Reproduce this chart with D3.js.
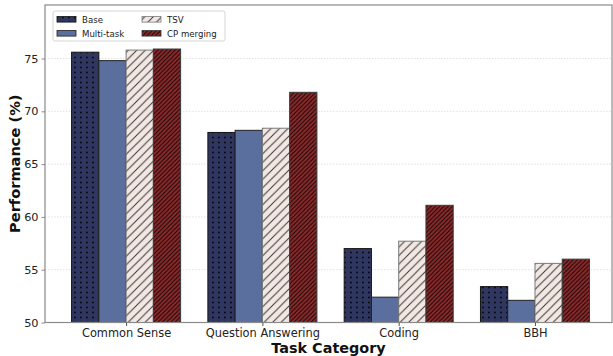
<!DOCTYPE html>
<html>
<head>
<meta charset="utf-8">
<script src="https://cdn.jsdelivr.net/npm/d3@7"></script>
<style>
  html, body { margin: 0; padding: 0; background: #fff; }
  svg { display: block; font-family: "DejaVu Sans", sans-serif; }
</style>
</head>
<body>
<svg id="chart" width="613" height="356"></svg>
<script>
// Task categories along the x axis
const categories = ["Common Sense", "Question Answering", "Coding", "BBH"];

// Method names (legend order) and their scores per category
const methods = ["Base", "Multi-task", "TSV", "CP merging"];
const baseScores      = [75.6, 68.0, 57.0, 53.4];
const multiTaskScores = [74.8, 68.2, 52.4, 52.1];
const tsvScores       = [75.8, 68.4, 57.7, 55.6];
const cpMergingScores = [75.9, 71.8, 61.1, 56.0];

// Y axis ticks
const yTicks = [50, 55, 60, 65, 70, 75];

const seriesValues = [baseScores, multiTaskScores, tsvScores, cpMergingScores];

const svg = d3.select("#chart");
const plot = { left: 45, right: 612, top: 5, bottom: 322.5 };

const x = d3.scaleLinear().domain([-0.595, 3.565]).range([plot.left, plot.right]);
const y = d3.scaleLinear().domain([50, 80.07]).range([plot.bottom, plot.top]);

const barWidth = 0.2;
const offsets = [-0.3, -0.1, 0.1, 0.3];

// Fill patterns for each method
const defs = svg.append("defs");

// Base: navy with dot hatch
const pDots = defs.append("pattern").attr("id", "p-base")
  .attr("patternUnits", "userSpaceOnUse").attr("width", 6).attr("height", 5);
pDots.append("rect").attr("width", 6).attr("height", 5).attr("fill", "#2f3660");
pDots.append("rect").attr("x", 2).attr("y", 1.7).attr("width", 1.8).attr("height", 1.6).attr("fill", "#07080f");

// Multi-task: plain steel blue
const pMulti = defs.append("pattern").attr("id", "p-multi")
  .attr("patternUnits", "userSpaceOnUse").attr("width", 6).attr("height", 6);
pMulti.append("rect").attr("width", 6).attr("height", 6).attr("fill", "#5b6f9f");

// TSV: light blush with sparse diagonal hatch
const pTsv = defs.append("pattern").attr("id", "p-tsv")
  .attr("patternUnits", "userSpaceOnUse").attr("width", 8.5).attr("height", 8.5);
pTsv.append("rect").attr("width", 8.5).attr("height", 8.5).attr("fill", "#f2e7e3");
pTsv.append("path").attr("d", "M-1,9.5 L9.5,-1 M-2.125,2.125 L2.125,-2.125 M6.375,10.625 L10.625,6.375")
  .attr("stroke", "#333").attr("stroke-width", 0.95);

// CP merging: dark red with dense diagonal hatch
const pCp = defs.append("pattern").attr("id", "p-cp")
  .attr("patternUnits", "userSpaceOnUse").attr("width", 4.25).attr("height", 4.25);
pCp.append("rect").attr("width", 4.25).attr("height", 4.25).attr("fill", "#8e2a2b");
pCp.append("path").attr("d", "M-1,5.25 L5.25,-1 M-1.0625,1.0625 L1.0625,-1.0625 M3.1875,5.3125 L5.3125,3.1875")
  .attr("stroke", "#120505").attr("stroke-width", 1.05);

const fills = ["url(#p-base)", "url(#p-multi)", "url(#p-tsv)", "url(#p-cp)"];
const edges = ["#151515", "#202020", "#7a7a7a", "#3a3a3a"];

// Horizontal dotted gridlines
svg.append("g").selectAll("line").data(yTicks.filter(t => t > 50)).join("line")
  .attr("x1", plot.left).attr("x2", plot.right)
  .attr("y1", d => y(d)).attr("y2", d => y(d))
  .attr("stroke", "#d8d8d8").attr("stroke-width", 0.8).attr("stroke-dasharray", "1.5,1.5");

// Bars
seriesValues.forEach((vals, m) => {
  svg.append("g").selectAll("rect").data(vals).join("rect")
    .attr("x", (d, i) => x(i + offsets[m] - barWidth / 2))
    .attr("width", x(barWidth) - x(0))
    .attr("y", d => y(d))
    .attr("height", d => y(50) - y(d))
    .attr("fill", fills[m])
    .attr("stroke", edges[m])
    .attr("stroke-width", 1);
});

// Frame
svg.append("rect").attr("x", plot.left).attr("y", plot.top)
  .attr("width", plot.right - plot.left).attr("height", plot.bottom - plot.top)
  .attr("fill", "none").attr("stroke", "#8a8a8a").attr("stroke-width", 1.2);

// Y axis
const yAxis = d3.axisLeft(y).tickValues(yTicks).tickSize(3.5).tickPadding(3);
const gy = svg.append("g").attr("transform", `translate(${plot.left},0)`).call(yAxis);
gy.select(".domain").remove();
gy.selectAll(".tick line").attr("stroke", "#8a8a8a");
gy.selectAll(".tick text").attr("font-size", "11.3px").attr("fill", "#222")
  .attr("font-family", "DejaVu Sans");

// X axis
const xAxis = d3.axisBottom(x).tickValues(d3.range(categories.length))
  .tickFormat(i => categories[i]).tickSize(3.5).tickPadding(3);
const gx = svg.append("g").attr("transform", `translate(0,${plot.bottom})`).call(xAxis);
gx.select(".domain").remove();
gx.selectAll(".tick line").attr("stroke", "#555");
gx.selectAll(".tick text").attr("font-size", "11.4px").attr("fill", "#222")
  .attr("font-family", "DejaVu Sans");

// Axis titles
svg.append("text").attr("x", (plot.left + plot.right) / 2).attr("y", 353)
  .attr("text-anchor", "middle").attr("font-size", "14.4px").attr("font-weight", "bold")
  .attr("fill", "#111").text("Task Category");
svg.append("text").attr("transform", `translate(20,${(plot.top + plot.bottom) / 2}) rotate(-90)`)
  .attr("text-anchor", "middle").attr("font-size", "14.6px").attr("font-weight", "bold")
  .attr("fill", "#111").text("Performance (%)");

// Legend
const lg = svg.append("g");
lg.append("rect").attr("x", 53).attr("y", 11).attr("width", 172).attr("height", 30)
  .attr("rx", 2).attr("fill", "#fff").attr("fill-opacity", 0.9)
  .attr("stroke", "#d0d0d0").attr("stroke-width", 0.9);
const legendPos = [
  { sx: 57, sy: 16.5, tx: 82, ty: 22.5 },
  { sx: 57, sy: 30.5, tx: 82, ty: 36.5 },
  { sx: 142, sy: 16.5, tx: 167, ty: 22.5 },
  { sx: 142, sy: 30.5, tx: 167, ty: 36.5 }
];
methods.forEach((name, m) => {
  const p = legendPos[m];
  lg.append("rect").attr("x", p.sx).attr("y", p.sy).attr("width", 19).attr("height", 5.6)
    .attr("fill", fills[m]).attr("stroke", edges[m]).attr("stroke-width", 0.8);
  lg.append("text").attr("x", p.tx).attr("y", p.ty).attr("font-size", "8.6px")
    .attr("fill", "#222").text(name);
});
</script>
</body>
</html>
